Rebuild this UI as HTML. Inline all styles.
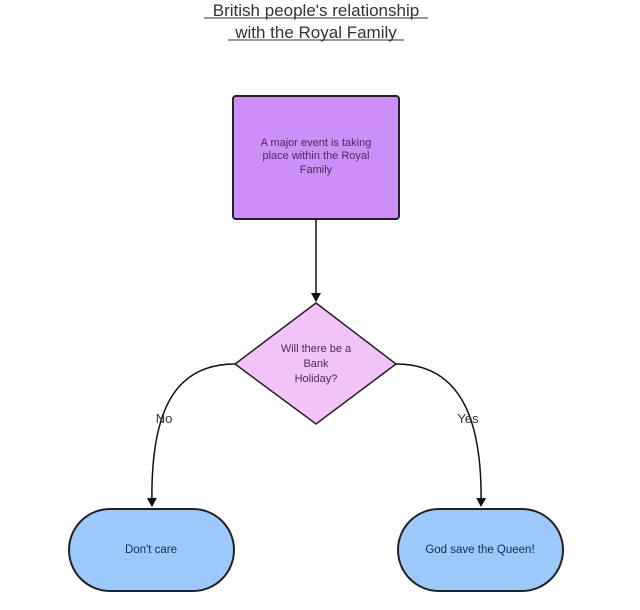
<!DOCTYPE html>
<html><head><style>body{margin:0;background:#fff}svg{display:block}</style></head><body>
<svg width="640" height="610" xmlns="http://www.w3.org/2000/svg" font-family="Liberation Sans, sans-serif">
<defs><marker id="a" markerWidth="10" markerHeight="10" refX="8" refY="5" orient="auto" markerUnits="userSpaceOnUse"><path d="M0,0 L9,5 L0,10 z" fill="#111"/></marker></defs>
<text x="316" y="16" font-size="17" text-anchor="middle" fill="#333">British people's relationship</text>
<line x1="204" y1="18" x2="428" y2="18" stroke="#333" stroke-width="1"/>
<text x="316" y="38" font-size="17" text-anchor="middle" fill="#333">with the Royal Family</text>
<line x1="228" y1="40" x2="404" y2="40" stroke="#333" stroke-width="1"/>
<rect x="233" y="96" width="166" height="123" rx="3" fill="#cc8ff7" stroke="#222" stroke-width="2"/>
<g font-size="11" fill="#4a2a5a" text-anchor="middle"><text x="316" y="146">A major event is taking</text><text x="316" y="159">place within the Royal</text><text x="316" y="173">Family</text></g>
<line x1="316" y1="219" x2="316" y2="301" stroke="#111" stroke-width="1.5" marker-end="url(#a)"/>
<polygon points="316,303 396,364 316,424 235,364" fill="#f3c2f8" stroke="#222" stroke-width="1.5"/>
<g font-size="11" fill="#4a2a5a" text-anchor="middle"><text x="316" y="352">Will there be a</text><text x="316" y="367">Bank</text><text x="316" y="382">Holiday?</text></g>
<path d="M235,364 C175,364 150,410 152,506" fill="none" stroke="#111" stroke-width="1.5" marker-end="url(#a)"/>
<path d="M396,364 C455,364 483,410 481,506" fill="none" stroke="#111" stroke-width="1.5" marker-end="url(#a)"/>
<text x="164" y="423" font-size="13" fill="#333" text-anchor="middle">No</text>
<text x="468" y="423" font-size="13" fill="#333" text-anchor="middle">Yes</text>
<rect x="69" y="509" width="165" height="82" rx="41" fill="#9cc9f9" stroke="#222" stroke-width="2"/>
<rect x="398" y="509" width="165" height="82" rx="41" fill="#9cc9f9" stroke="#222" stroke-width="2"/>
<text x="151" y="553" font-size="11.5" fill="#1a2a50" text-anchor="middle">Don't care</text>
<text x="480" y="553" font-size="11.5" fill="#1a2a50" text-anchor="middle">God save the Queen!</text>
</svg>
</body></html>
